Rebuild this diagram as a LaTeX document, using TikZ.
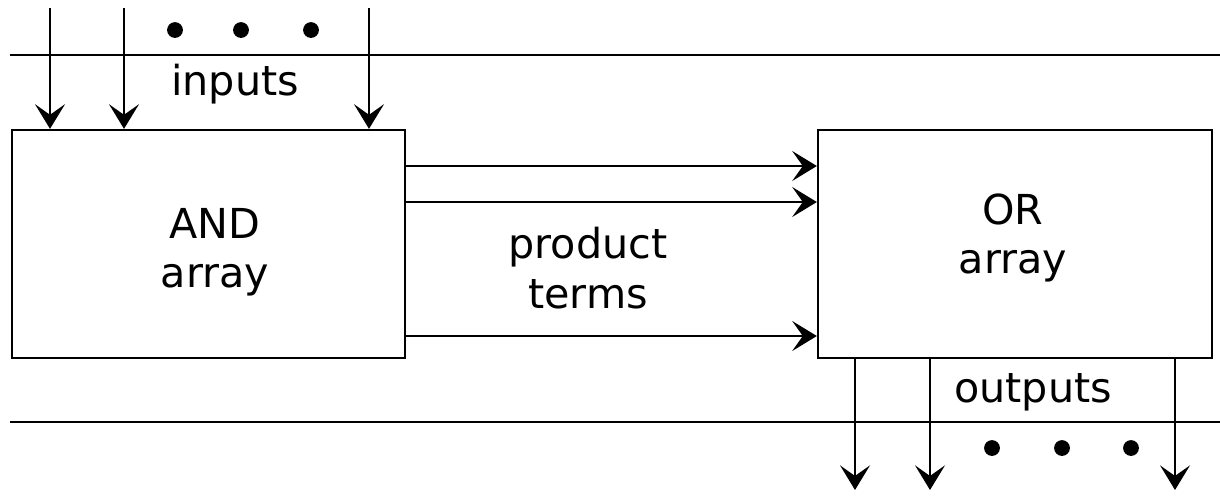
\documentclass[tikz,border=0pt]{standalone}
\usepackage{fontspec}
\setmainfont{DejaVu Sans}
\usetikzlibrary{arrows.meta}
\begin{document}
\begin{tikzpicture}[x=0.02cm,y=-0.02cm,
  line width=1.3pt,
  arr/.style={-{Stealth[length=14pt,width=17pt,inset=6pt]}},
  blk/.style={draw,line width=1.3pt,inner sep=0pt},
  lbl/.style={font=\fontsize{23.5}{28}\selectfont,align=center,inner sep=1pt},
  dotc/.style={circle,fill=black,inner sep=0pt,minimum size=9pt}]
\useasboundingbox (0,0) rectangle (1220,495);
% boxes
\node[blk,minimum width=393*0.02cm,minimum height=228*0.02cm] (and) at (208.5,244) {};
\node[blk,minimum width=394*0.02cm,minimum height=228*0.02cm] (or) at (1015,244) {};
\node[lbl] (andl) at (215,252) {AND\\array};
\node[lbl] (orl) at (1013,238) {OR\\array};
% bus lines
\coordinate (tl) at (10,55); \coordinate (tr) at (1220,55);
\coordinate (bl) at (10,422); \coordinate (br) at (1220,422);
\draw (tl) -- (tr);
\draw (bl) -- (br);
% inputs
\foreach \x/\n in {50/a,124/b,369/c}{
  \coordinate (in\n) at (\x,8);
  \draw[arr] (in\n) -- (in\n |- and.north);
}
\foreach \x/\n in {175/1,241/2,311/3}{ \node[dotc] (id\n) at (\x,30) {}; }
\node[lbl] (inl) at (235,84) {inputs};
% product terms
\foreach \y/\n in {166/a,202/b,336/c}{
  \coordinate (p\n) at (and.east |- 0,\y);
  \draw[arr] (p\n) -- (p\n -| or.west);
}
\node[lbl] (ptl) at (588,268) {product\\terms};
% outputs
\foreach \x/\n in {855/a,930/b,1175/c}{
  \coordinate (out\n) at (\x,490);
  \draw[arr] (out\n |- or.south) -- (out\n);
}
\foreach \x/\n in {992/1,1062/2,1131/3}{ \node[dotc] (od\n) at (\x,448) {}; }
\node[lbl] (outl) at (1033,392) {outputs};
\end{tikzpicture}
\end{document}
